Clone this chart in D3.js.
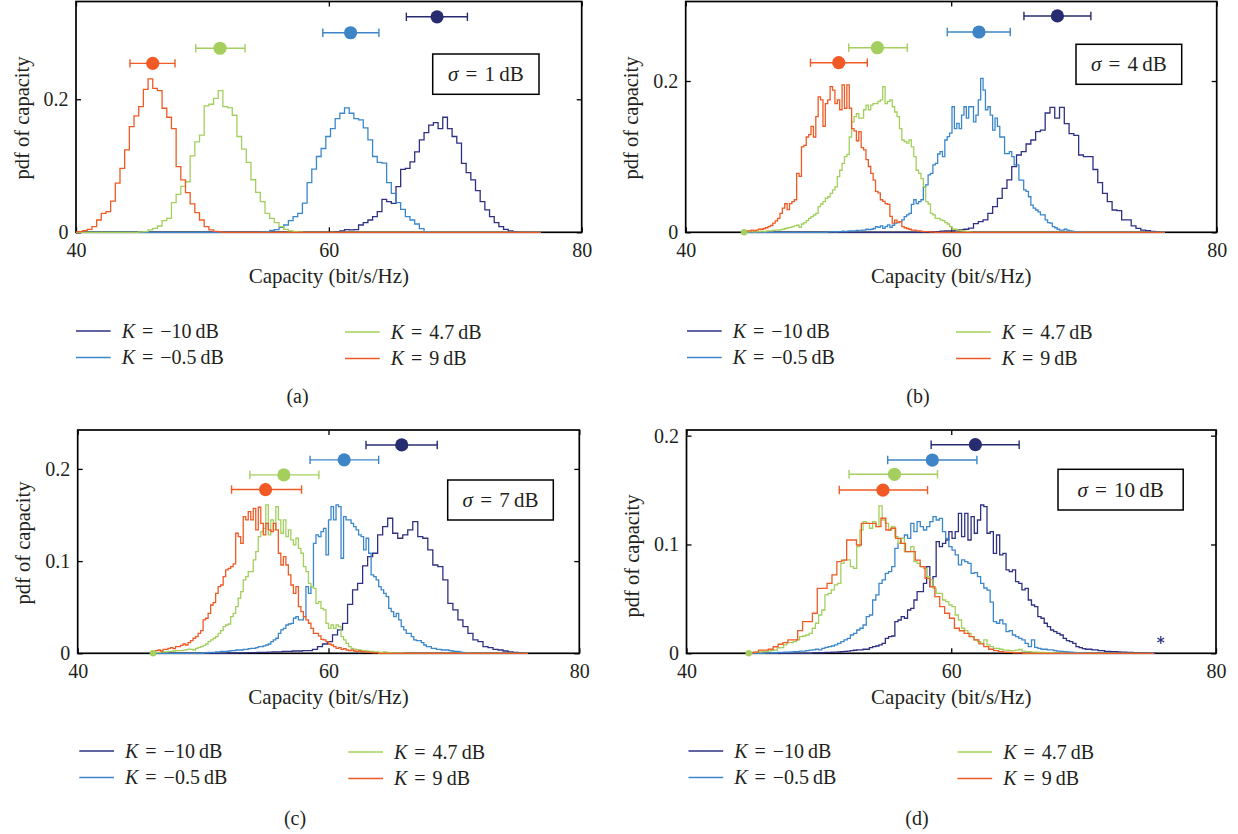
<!DOCTYPE html>
<html><head><meta charset="utf-8">
<script src="https://cdn.jsdelivr.net/npm/d3@7"></script>
<style>
body{margin:0;background:#fff}
svg{display:block;background:#fff}
text{font-family:"Liberation Serif","Times New Roman",serif;fill:#231f20}
</style>
</head><body>
<svg id="chart" width="1238" height="834"></svg>
<script>
// ---------------- DATA ----------------
const kLabels = ["\u221210", "\u22120.5", "4.7", "9"];          // navy, blue, green, orange
const sigmaLabels = ["1", "4", "7", "10"];
const panelLetters = ["(a)", "(b)", "(c)", "(d)"];
const xTicks = [40, 60, 80];
const yTicksA = [0, 0.2], yTicksB = [0, 0.2], yTicksC = [0, 0.1, 0.2], yTicksD = [0, 0.1, 0.2];

// panel (a)  sigma = 1 dB
const rangeA = [39.78, 76.78];
const binStartA = [60.5, 54.58, 44.96, 39.78];
const binWidthA = [0.37, 0.37, 0.37, 0.37];
const histA_navy = [0.001,0.002,0.004,0.0035,0.004,0.011,0.0145,0.0185,0.0235,0.031,0.0496,0.046,0.0436,0.0686,0.0947,0.096,0.106,0.121,0.139,0.15,0.161,0.165,0.156,0.173,0.156,0.144,0.134,0.1035,0.0897,0.0787,0.0627,0.046,0.0336,0.0236,0.0145,0.0085,0.0045,0.002,0.0005];
const histA_blue = [0.0005,0.001,0.003,0.004,0.0075,0.011,0.0175,0.0235,0.0285,0.044,0.0747,0.095,0.114,0.126,0.144,0.156,0.171,0.179,0.187,0.179,0.171,0.169,0.157,0.139,0.114,0.105,0.104,0.0747,0.0586,0.0446,0.0346,0.0236,0.0185,0.0125,0.0055,0.001,0.0005];
const histA_green = [0.0005,0.001,0.0035,0.006,0.0095,0.0175,0.021,0.0445,0.057,0.069,0.076,0.115,0.136,0.146,0.19,0.1925,0.2015,0.213,0.189,0.1875,0.176,0.144,0.125,0.105,0.079,0.06,0.046,0.0285,0.021,0.0145,0.0085,0.0045,0.002,0.001,0.0005];
const histA_orange = [0.0005,0.001,0.0025,0.0045,0.0085,0.0185,0.0286,0.031,0.047,0.074,0.096,0.124,0.159,0.175,0.189,0.215,0.2306,0.2165,0.213,0.1865,0.173,0.156,0.0987,0.0787,0.0596,0.0426,0.0296,0.0185,0.0085,0.0035,0.0015,0.0005];
const meanA = [68.56, 61.72, 51.39, 46.07];
const lowA = [66.13, 59.52, 49.47, 44.27];
const highA = [70.96, 63.96, 53.37, 47.83];
const levelA = [0.324, 0.300, 0.2767, 0.254];

// panel (b)  sigma = 4 dB
const rangeB = [44.4, 76.1];
const binStartB = [58.08, 50.7, 44.4, 44.4];
const binWidthB = [0.36, 0.18, 0.18, 0.18];
const histB_navy = [0.0005,0.001,0.001,0.0015,0.002,0.002,0.003,0.0035,0.004,0.0055,0.0115,0.0141,0.0163,0.0251,0.0339,0.0449,0.0581,0.0692,0.0868,0.1022,0.1066,0.1167,0.122,0.133,0.1352,0.1577,0.1652,0.151,0.1652,0.1436,0.1304,0.128,0.1022,0.1,0.1,0.083,0.0656,0.0515,0.0405,0.0295,0.0286,0.0163,0.0163,0.0084,0.0053,0.003,0.0022,0.0013,0.0005];
const histB_blue = [0.0005,0.0005,0.001,0.0005,0.001,0.001,0.0015,0.001,0.0015,0.002,0.002,0.002,0.0025,0.002,0.003,
0.003,0.004,0.0035,0.004,0.005, 0.0075,0.0066,0.0084,0.0053,0.0075, 0.0097,0.0066,0.0093,0.012,0.0128, 0.014,0.0163,0.0207,0.023,0.025,
0.037,0.043,0.038,0.0405,0.043, 0.060,0.0626,0.0758,0.078,0.089, 0.091,0.1035,0.1066,0.100,0.122, 0.1264,0.131,0.166,0.137,0.144,
0.137,0.155,0.166,0.151,0.166, 0.166,0.146,0.155,0.175,0.2035, 0.188,0.162,0.166,0.155,0.135, 0.151,0.140,0.126,0.126,0.104,
0.104,0.1066,0.100,0.089,0.089, 0.069,0.069,0.056,0.054,0.047, 0.036,0.032,0.0295,0.027,0.023, 0.023,0.0163,0.0128,0.012,0.0075,
0.006,0.004,0.003,0.003,0.004, 0.003,0.002,0.0015,0.001,0.001,0.0005];
const histB_green = [0.0005,0.0005,0.001,0.001,0.0005,0.001,0.001,0.0015,0.001,0.0015, 0.002,0.002,0.0025,0.003,0.003, 0.0035,0.004,0.005,0.006,0.0065,
0.0075,0.0084,0.0093,0.0066,0.011, 0.0128,0.0154,0.0185,0.0207,0.0229, 0.025,0.034,0.0374,0.0405,0.045, 0.047,0.0515,0.056,0.060,0.0735,
0.082,0.091,0.100,0.103,0.126, 0.146,0.153,0.157,0.151,0.151, 0.162,0.168,0.162,0.168,0.170, 0.170,0.173,0.175,0.1925,0.170,
0.173,0.175,0.166,0.159,0.153, 0.137,0.122,0.120,0.118,0.122, 0.113,0.100,0.082,0.078,0.071, 0.060,0.0405,0.0374,0.025,0.023,
0.0185,0.0185,0.0163,0.0154,0.0128, 0.011,0.0075,0.004,0.004,0.003, 0.003,0.002,0.0015,0.001,0.0005];
const histB_orange = [0.0005,0.002,0.002,0.003,0.002, 0.003,0.004,0.004,0.005,0.006, 0.0075,0.009,0.012,0.015,0.0185, 0.025,0.032,0.038,0.030,0.038,
0.0405,0.043,0.078,0.074,0.113, 0.115,0.126,0.129,0.14,0.126, 0.153,0.179,0.175,0.14,0.170, 0.175,0.1925,0.188,0.170,0.175,
0.162,0.195,0.164,0.195,0.164, 0.137,0.134,0.121,0.133,0.112, 0.109,0.096,0.087,0.078,0.069, 0.054,0.052,0.043,0.041,0.038,
0.037,0.021,0.012,0.016,0.013, 0.014,0.0075,0.006,0.005,0.004, 0.003,0.003,0.002,0.0018,0.0013, 0.001,0.0008,0.0005,0.0004,0.0003];
const meanB = [68.0, 62.09, 54.44, 51.53];
const lowB = [65.48, 59.70, 52.28, 49.40];
const highB = [70.52, 64.45, 56.69, 53.68];
const levelB = [0.286, 0.2648, 0.244, 0.2242];

// panel (c)  sigma = 7 dB
const rangeC = [46.0, 75.9];
const binStartC = [51.92, 50.0, 46.0, 46.0];
const binWidthC = [0.4, 0.2, 0.2, 0.2];
const histC_navy = [0.0003,0.0003,0.0005,0.0005,0.0008,0.0008,0.001,0.001,0.0012,0.0015,0.0015,0.002,0.002,0.0025,0.0025,
0.0029,0.0029,0.0043,0.0072,0.0101,0.0127,0.0199,0.0253,0.0325,0.053,
0.0687,0.0759,0.0949,0.1049,0.1085,0.1284,0.1374,0.1465,
0.1302,0.1248,0.1284,0.1338,0.1429,0.1266,0.1248,0.1121,0.0958,0.094,
0.0796,0.0542,0.047,0.0362,0.0289,0.0217,0.0145,0.0127,0.0072,0.0061,0.0043,0.0036,0.0025,0.0015,0.001,0.0005];
const histC_blue = [0.0005,0.0005,0.001,0.001,0.001,0.0015,0.0015,0.002,0.002,0.002,
0.0025,0.003,0.0029,0.0036,0.0036, 0.0036,0.0043,0.0043,0.0051,0.0054, 0.0054,0.0061,0.0072,0.0072,0.008, 0.009,0.0101,0.0127,0.0145,0.0163,
0.0217,0.0253,0.0271,0.0307,0.0318, 0.0325,0.038,0.0398,
0.0362,0.0362,0.0398,0.0723,0.065,0.0723,0.1193,0.1284,0.1266,0.132,
0.1356,0.1067,0.1447,0.1591,0.1447,0.1609,0.1591,0.1031,0.1483,0.1447,
0.1447,0.141,0.1374,0.1338,0.1284, 0.1266,0.1121,0.1248,0.1085,0.085, 0.0832,0.0796,0.0723,0.0687,0.0651, 0.0615,0.0488,0.0452,0.0398,0.0434,
0.0362,0.0289,0.0253,0.0217,0.0217, 0.0181,0.0145,0.0137,0.0137,0.0116, 0.009,0.0072,0.0072,0.0054,0.0054, 0.0043,0.0043,0.0036,0.0036,0.0036,
0.003,0.0025,0.002,0.002,0.0015,0.001,0.0008,0.0005];
const histC_green = [0.0005,0.001,0.001,0.0015,0.0015, 0.0015,0.002,0.002,0.0025,0.003, 0.003,0.003,0.0035,0.004,0.0045, 0.0043,0.0036,0.0054,0.0065,0.0072,
0.0087,0.0101,0.0127,0.0145,0.0163, 0.0181,0.0217,0.0246,0.0289,0.0307, 0.0318,0.0398,0.0434,0.0506,0.0597, 0.0669,0.0796,0.0832,0.0886,0.0886,
0.1013,0.1103,0.1266,0.132,0.1356, 0.1609,0.1284,0.1447,0.1338,0.1591, 0.1447,0.1302,0.1447,0.1266,0.1338, 0.123,0.1175,0.1248,0.1139,0.1085,
0.094,0.0886,0.0759,0.0723,0.0705, 0.0542,0.0561,0.0488,0.047,0.0325, 0.0271,0.0307,0.0271,0.0307,0.0289, 0.0181,0.0145,0.0108,0.0072,0.0054,
0.0045,0.004,0.0036,0.003,0.003,0.0025,0.002,0.002,0.0015,0.0015, 0.001,0.001,0.0015,0.001,0.0008,0.0005,0.0005,0.0005,0.0003,0.0003];
const histC_orange = [0.0018,0.0029,0.0036,0.0025,0.0043, 0.0043,0.0054,0.0061,0.0051,0.0072, 0.0072,0.0087,0.0101,0.009,0.0116, 0.0137,0.0163,0.018,0.0217,0.0246,
0.0362,0.038,0.0434,0.0524,0.055, 0.0651,0.0723,0.0741,0.0832,0.0904, 0.0922,0.094,0.0969,0.1302,0.1266, 0.1193,0.1483,0.1447,0.1537,0.1447,
0.1573,0.1338,0.1584,0.141,0.1284, 0.141,0.1338,0.132,0.141,0.1338, 0.1085,0.0958,0.1049,0.0958,0.085, 0.0741,0.0651,0.0723,0.0506,0.0452,
0.0398,0.0362,0.0326,0.0271,0.0217, 0.0217,0.0188,0.0152,0.0145,0.0127, 0.0101,0.009,0.0072,0.0054,0.0061, 0.0043,0.0051,0.0036,0.0029,0.0036,
0.0025,0.002,0.0025,0.0018,0.0015,0.0012,0.001,0.0008,0.0005,0.0005];
const meanC = [65.84, 61.25, 56.44, 54.98];
const lowC = [62.99, 58.53, 53.73, 52.27];
const highC = [68.67, 64.0, 59.23, 57.85];
const levelC = [0.226, 0.2098, 0.1935, 0.1776];

// panel (d)  sigma = 10 dB
const rangeD = [44.7, 75.3];
const binStartD = [49.5, 45.9, 44.7, 44.7];
const binWidthD = [0.24, 0.24, 0.24, 0.37];
const histD_navy = [0.0003,0.0003,0.0005,0.0005,0.0008,0.0008,0.001,0.001,
0.0012,0.0015,0.0018,0.002,0.0025,0.0028,
0.0031,0.0031,0.0037,0.0037,0.0052,0.0061,0.0067,0.0077,0.0092,0.0138,0.0153,0.0159,
0.0291,0.0306,0.0337,0.0322,0.0398,0.0413,0.049,0.0567,0.0567,0.0643,0.0796,0.0613,0.0704,
0.1026,0.098,0.1011,0.1041,0.1118,0.1057,0.1118,0.1286,0.1072,0.1286,
0.1041,0.1256,0.1103,0.1225,0.1363,0.1348,0.1103,0.1118,0.0919,0.1087,
0.0904,0.0919,0.0766,0.075,0.0766,0.0659,0.0643,0.0582,0.0597,0.049,
0.0444,0.0429,0.0337,0.0322,0.0276,0.0245,0.0214,0.0199,0.0184,0.0168,
0.0138,0.0116,0.0107,0.0092,0.0061,0.0052,0.0043,0.0037,
0.0037,0.0031,0.0031,0.0025,0.0025,0.0018,0.0018,0.0015,0.0015,0.0012,0.001,0.001,0.0008,0.0008,0.0005,0.0005,0.0003,0.0003,0.0003,0.0002,0.0002];
const histD_blue = [0.0003,0.0003,0.0005,0.0005,0.0008,0.0008,0.001,0.001,0.0012,0.0015,0.0015,0.002,0.002,0.0025,0.003,
0.0031,0.0037,0.0031,0.0046,0.0055, 0.0061,0.0067,0.0077,0.0092,0.0107, 0.0123,0.0138,0.0168,0.0184,0.0214, 0.023,0.026,0.0337,0.0352,0.049,
0.0536,0.0643,0.0674,0.0735,0.075, 0.0796,0.0965,0.1011,0.1057,0.1087, 0.1057,0.1194,0.1118,0.121,0.1164, 0.1133,0.1164,0.121,0.1256,0.1225,
0.124,0.1118,0.1057,0.098,0.0949, 0.0904,0.0812,0.0858,0.0842,0.0827, 0.0735,0.0741,0.0704,0.0643,0.06, 0.058,0.047,0.0291,0.0276,0.0306,
0.027,0.0199,0.0208,0.0168,0.0153, 0.0138,0.0123,0.0092,0.0061,0.0123, 0.0055,0.0046,0.0037,0.0037,0.0031,0.0031,0.0025,
0.002,0.0018,0.0015,0.0012,0.001,0.0008,0.0006,0.0005,0.0003];
const histD_green = [0.0005,0.0008,0.001,0.0012,0.0015, 0.0015,0.002,0.0025,0.003,0.005, 0.0052,0.0077,0.0098,0.0098,0.0107, 0.0123,0.0153,0.0159,0.0168,0.0184,
0.023,0.0276,0.0352,0.0398,0.0536, 0.0551,0.0582,0.0628,0.0643,0.0827, 0.0858,0.0858,0.0796,0.0781,0.098, 0.1133,0.121,0.1194,0.1149,0.121,
0.1164,0.1354,0.1225,0.1194,0.1133, 0.1164,0.1072,0.1011,0.1057,0.0934, 0.0934,0.098,0.0842,0.0827,0.0796, 0.0781,0.0704,0.0674,0.0597,0.0551,
0.0551,0.049,0.0475,0.0444,0.0429, 0.0352,0.0306,0.023,0.0208,0.0184, 0.0153,0.0123,0.0107,0.0092,0.0123, 0.0077,0.0061,0.0046,0.0046,0.0037,
0.003,0.003,0.0025,0.0025,0.003,0.0035,0.002,0.0015,0.0015,0.001, 0.001,0.0008,0.0008,0.0005,0.0005,0.0005,0.0003,0.0003,0.0003,0.0002];
const histD_orange = [0.0003,0.001,0.003,0.003,0.0037,0.006,0.0083,0.0098,0.0123,0.0123, 0.0208,0.0291,0.0291,0.0368,0.0597,0.0597,0.0643,0.072,0.0842,0.0857,
0.1041,0.1041,0.0995,0.1194,0.1194,0.1194,0.1164,0.1241,0.1133,0.1149, 0.1057,0.1011,0.0934,0.0934,0.0857,0.0796,0.0689,0.0613,0.0521,0.0429,
0.0368,0.0322,0.023,0.0207,0.0184,0.0153,0.0123,0.0086,0.0061,0.0037, 0.0025,0.0015,0.001,0.0008,0.0005,0.0003];
const meanD = [61.82, 58.57, 55.71, 54.84];
const lowD = [58.48, 55.2, 52.28, 51.54];
const highD = [65.13, 61.94, 58.96, 58.21];
const levelD = [0.1917, 0.1776, 0.1645, 0.150];
const outlierD = [75.83, 0.0123];   // navy "*" marker

// ---------------- STYLE / LAYOUT ----------------
const lineColors = ["#2e3083", "#3b87cc", "#a2d05d", "#f05a24"];
const dotColors  = ["#272b6f", "#3d85c6", "#a4cf5f", "#f15a24"];
const layouts = [
  {left:76,    right:581.7,  top:1.5, bottom:232.3, yMax:0.347,  yLabY:118, capX:297.5, capY:402.5, legX:76,    legY:331},
  {left:685.7, right:1216.7, top:1.5, bottom:232.3, yMax:0.3051, yLabY:118, capX:918,   capY:402.5, legX:687,   legY:331},
  {left:77.7,  right:579.3,  top:430, bottom:653.3, yMax:0.2422, yLabY:543, capX:295,   capY:824.5, legX:79.3,  legY:751},
  {left:686.5, right:1216,   top:430, bottom:653.3, yMax:0.2052, yLabY:556, capX:917,   capY:824.5, legX:688.5, legY:751}
];
const boxes = [
  {x:432.7, y:54,    w:106.3, h:40.3},
  {x:1076,  y:44.3,  w:105.7, h:40},
  {x:447.7, y:480,   w:105.6, h:40},
  {x:1058,  y:469.3, w:125.2, h:40.7}
];

const panels = [
  {hists:[histA_navy,histA_blue,histA_green,histA_orange], starts:binStartA, widths:binWidthA, range:rangeA, mean:meanA, low:lowA, high:highA, level:levelA, yTicks:yTicksA, startDot:false},
  {hists:[histB_navy,histB_blue,histB_green,histB_orange], starts:binStartB, widths:binWidthB, range:rangeB, mean:meanB, low:lowB, high:highB, level:levelB, yTicks:yTicksB, startDot:true},
  {hists:[histC_navy,histC_blue,histC_green,histC_orange], starts:binStartC, widths:binWidthC, range:rangeC, mean:meanC, low:lowC, high:highC, level:levelC, yTicks:yTicksC, startDot:true},
  {hists:[histD_navy,histD_blue,histD_green,histD_orange], starts:binStartD, widths:binWidthD, range:rangeD, mean:meanD, low:lowD, high:highD, level:levelD, yTicks:yTicksD, startDot:true}
];

const svg = d3.select("#chart");
const defs = svg.append("defs");
const FONT = '"Liberation Serif","Times New Roman",serif';

function styleAxis(g){
  g.select(".domain").remove();
  g.attr("font-family", FONT).attr("font-size", 20);
  g.selectAll("line").attr("stroke", "#000").attr("stroke-width", 1.3);
  g.selectAll("text").attr("fill", "#231f20");
}

panels.forEach((p, pi) => {
  const L = layouts[pi];
  const x = d3.scaleLinear().domain([40, 80]).range([L.left, L.right]);
  const y = d3.scaleLinear().domain([0, L.yMax]).range([L.bottom, L.top]);
  const g = svg.append("g");

  defs.append("clipPath").attr("id", "clip" + pi)
    .append("rect").attr("x", L.left).attr("y", L.top)
    .attr("width", L.right - L.left).attr("height", L.bottom - L.top + 2);

  // axes (inward ticks on all four sides)
  const yFmt = d => d === 0 ? "0" : d3.format(".1f")(d);
  g.append("g").attr("transform", `translate(0,${L.bottom})`)
    .call(d3.axisBottom(x).tickValues(xTicks).tickSizeInner(-5).tickSizeOuter(0).tickPadding(10.2).tickFormat(d3.format("d")))
    .call(styleAxis);
  g.append("g").attr("transform", `translate(0,${L.top})`)
    .call(d3.axisTop(x).tickValues(xTicks).tickSizeInner(-5).tickSizeOuter(0).tickFormat(""))
    .call(styleAxis);
  g.append("g").attr("transform", `translate(${L.left},0)`)
    .call(d3.axisLeft(y).tickValues(p.yTicks).tickSizeInner(-5).tickSizeOuter(0).tickPadding(7.5).tickFormat(yFmt))
    .call(styleAxis);
  g.append("g").attr("transform", `translate(${L.right},0)`)
    .call(d3.axisRight(y).tickValues(p.yTicks).tickSizeInner(-5).tickSizeOuter(0).tickFormat(""))
    .call(styleAxis);

  // frame
  g.append("rect").attr("x", L.left).attr("y", L.top)
    .attr("width", L.right - L.left).attr("height", L.bottom - L.top)
    .attr("fill", "none").attr("stroke", "#000").attr("stroke-width", 1.7);

  // axis titles
  g.append("text").attr("x", (L.left + L.right) / 2).attr("y", L.bottom + 51)
    .attr("text-anchor", "middle").attr("font-size", 21).text("Capacity (bit/s/Hz)");
  g.append("text").attr("transform", `translate(${L.left - 47.5},${L.yLabY}) rotate(-90)`)
    .attr("text-anchor", "middle").attr("font-size", 20.5).text("pdf of capacity");

  // histograms (step lines)
  const line = d3.line().x(d => x(d[0])).y(d => y(d[1])).curve(d3.curveStepAfter);
  const hg = g.append("g").attr("clip-path", `url(#clip${pi})`);
  p.hists.forEach((h, si) => {
    const s = p.starts[si], w = p.widths[si];
    const pts = [[p.range[0], 0]];
    h.forEach((v, i) => pts.push([s + i * w, v]));
    pts.push([s + h.length * w, 0]);
    pts.push([p.range[1], 0]);
    hg.append("path").attr("d", line(pts)).attr("fill", "none")
      .attr("stroke", lineColors[si]).attr("stroke-width", 1.3).attr("stroke-linejoin", "miter");
  });
  if (p.startDot) {
    g.append("circle").attr("cx", x(p.range[0])).attr("cy", y(0)).attr("r", 3.2).attr("fill", dotColors[2]);
  }
  if (pi === 3) {
    g.append("path").attr("d", d3.symbol(d3.symbolAsterisk, 45)())
      .attr("transform", `translate(${x(outlierD[0])},${y(outlierD[1])})`)
      .attr("fill", "none").attr("stroke", lineColors[0]).attr("stroke-width", 1.2);
  }

  // error bars with mean markers
  p.mean.forEach((m, si) => {
    const yy = y(p.level[si]);
    const eg = g.append("g").attr("stroke", dotColors[si]).attr("stroke-width", 1.4);
    eg.append("line").attr("x1", x(p.low[si])).attr("x2", x(p.high[si])).attr("y1", yy).attr("y2", yy);
    eg.append("line").attr("x1", x(p.low[si])).attr("x2", x(p.low[si])).attr("y1", yy - 4.2).attr("y2", yy + 4.2);
    eg.append("line").attr("x1", x(p.high[si])).attr("x2", x(p.high[si])).attr("y1", yy - 4.2).attr("y2", yy + 4.2);
    g.append("circle").attr("cx", x(m)).attr("cy", yy).attr("r", 6.6).attr("fill", dotColors[si]);
  });

  // sigma box
  const b = boxes[pi];
  g.append("rect").attr("x", b.x).attr("y", b.y).attr("width", b.w).attr("height", b.h)
    .attr("fill", "#fff").attr("stroke", "#000").attr("stroke-width", 1.5);
  const st = g.append("text").attr("x", b.x + b.w / 2).attr("y", b.y + b.h / 2 + 7)
    .attr("text-anchor", "middle").attr("font-size", 21).attr("word-spacing", "2px");
  st.append("tspan").attr("font-style", "italic").text("\u03c3");
  st.append("tspan").text(" = " + sigmaLabels[pi] + "\u2009dB");

  // legend
  const legCols = [[0, 0, 0], [1, 0, 26.5], [2, 269, 1], [3, 269, 27.5]];
  legCols.forEach(([si, dx, dy]) => {
    const ly = L.legY + dy;
    g.append("line").attr("x1", L.legX + dx).attr("x2", L.legX + dx + 34.7)
      .attr("y1", ly).attr("y2", ly).attr("stroke", lineColors[si]).attr("stroke-width", 1.6);
    const t = g.append("text").attr("x", L.legX + dx + 45.7).attr("y", ly + 6.5)
      .attr("font-size", 20).attr("word-spacing", "2px");
    t.append("tspan").attr("font-style", "italic").text("K");
    t.append("tspan").text(" = " + kLabels[si] + "\u2009dB");
  });

  // caption
  g.append("text").attr("x", L.capX).attr("y", L.capY).attr("text-anchor", "middle")
    .attr("font-size", 20).text(panelLetters[pi]);
});
</script>
</body></html>
